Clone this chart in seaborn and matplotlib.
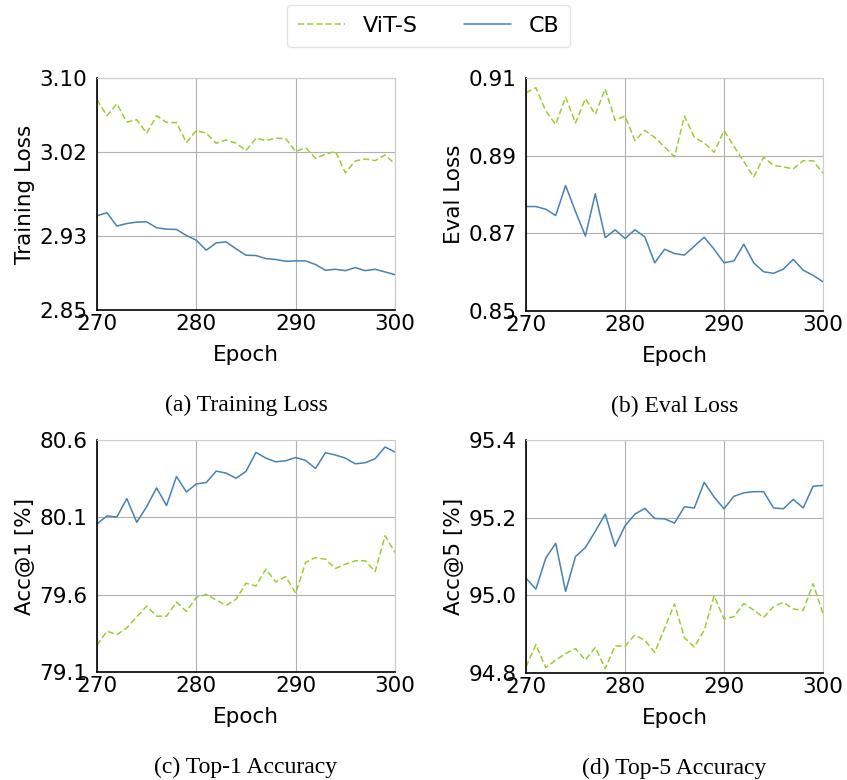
import numpy as np
import pandas as pd
import matplotlib
matplotlib.use("Agg")
import matplotlib.pyplot as plt
import seaborn as sns

epochs = list(range(270, 301))

# training loss
train_vit = [3.0766, 3.0593, 3.0723, 3.0524, 3.0550, 3.0405, 3.0593, 3.0521, 3.0520, 3.0305,
             3.0434, 3.0405, 3.0297, 3.0333, 3.0297, 3.0218, 3.0351, 3.0326, 3.0351, 3.0348,
             3.0207, 3.0250, 3.0135, 3.0178, 3.0210, 2.9980, 3.0106, 3.0128, 3.0110, 3.0171, 3.0074]
train_cb = [2.9515, 2.9548, 2.9404, 2.9432, 2.9447, 2.9450, 2.9386, 2.9371, 2.9368, 2.9303,
            2.9252, 2.9144, 2.9223, 2.9234, 2.9159, 2.9090, 2.9087, 2.9054, 2.9044, 2.9025,
            2.9029, 2.9029, 2.8990, 2.8928, 2.8939, 2.8924, 2.8957, 2.8924, 2.8939, 2.8910, 2.8881]

# eval loss
eval_vit = [0.9062, 0.9075, 0.9015, 0.8980, 0.9051, 0.8984, 0.9047, 0.9006, 0.9072, 0.8991,
            0.9002, 0.8939, 0.8965, 0.8947, 0.8922, 0.8897, 0.9002, 0.8947, 0.8933, 0.8909,
            0.8965, 0.8924, 0.8885, 0.8845, 0.8896, 0.8875, 0.8871, 0.8866, 0.8887, 0.8887, 0.8855]
eval_cb = [0.8769, 0.8769, 0.8762, 0.8746, 0.8823, 0.8756, 0.8693, 0.8802, 0.8689, 0.8709,
           0.8687, 0.8709, 0.8691, 0.8624, 0.8659, 0.8648, 0.8644, 0.8667, 0.8690, 0.8659,
           0.8624, 0.8629, 0.8672, 0.8624, 0.8601, 0.8597, 0.8608, 0.8633, 0.8605, 0.8592, 0.8575]

# top-1
acc1_vit = [79.273, 79.364, 79.342, 79.385, 79.457, 79.526, 79.461, 79.461, 79.552, 79.492,
            79.581, 79.602, 79.565, 79.531, 79.570, 79.674, 79.656, 79.765, 79.682, 79.717,
            79.609, 79.808, 79.840, 79.829, 79.769, 79.797, 79.819, 79.819, 79.749, 79.981, 79.873]
acc1_cb = [80.057, 80.109, 80.102, 80.221, 80.068, 80.169, 80.290, 80.176, 80.364, 80.264,
           80.316, 80.325, 80.399, 80.386, 80.353, 80.397, 80.520, 80.483, 80.459, 80.466,
           80.487, 80.468, 80.416, 80.518, 80.503, 80.483, 80.446, 80.453, 80.479, 80.555, 80.522]

# top-5
acc5_vit = [94.816, 94.873, 94.814, 94.833, 94.850, 94.863, 94.833, 94.866, 94.811, 94.870,
            94.869, 94.898, 94.884, 94.853, 94.915, 94.978, 94.891, 94.867, 94.910, 94.999,
            94.939, 94.945, 94.979, 94.962, 94.943, 94.971, 94.982, 94.965, 94.961, 95.030, 94.953]
acc5_cb = [95.044, 95.016, 95.096, 95.134, 95.010, 95.100, 95.123, 95.165, 95.209, 95.126,
           95.179, 95.209, 95.224, 95.198, 95.197, 95.186, 95.228, 95.225, 95.291, 95.253,
           95.223, 95.255, 95.264, 95.267, 95.267, 95.225, 95.223, 95.247, 95.225, 95.281, 95.283]

ylabels = ["Training Loss", "Eval Loss", "Acc@1 [%]", "Acc@5 [%]"]
captions = ["(a) Training Loss", "(b) Eval Loss", "(c) Top-1 Accuracy", "(d) Top-5 Accuracy"]
yticks = [[2.85, 2.93, 3.02, 3.10], [0.85, 0.87, 0.89, 0.91],
          [79.1, 79.6, 80.1, 80.6], [94.8, 95.0, 95.2, 95.4]]
yfmt = ["{:.2f}", "{:.2f}", "{:.1f}", "{:.1f}"]
series = [(train_vit, train_cb), (eval_vit, eval_cb), (acc1_vit, acc1_cb), (acc5_vit, acc5_cb)]

sns.set_style("whitegrid")
plt.rcParams['font.family'] = ['DejaVu Sans']
plt.rcParams['text.color'] = 'black'
plt.rcParams['axes.labelcolor'] = 'black'
plt.rcParams['xtick.color'] = 'black'
plt.rcParams['ytick.color'] = 'black'

green = "#9acd32"
blue = "#4682b4"

fig = plt.figure(figsize=(8.47, 7.8), dpi=100)
W, H = 847, 780
boxes = [(97, 78, 395, 310), (526, 78, 823, 311), (97, 440, 395, 672), (526, 440, 823, 673)]

for i, (l, t, r, b) in enumerate(boxes):
    ax = fig.add_axes([l / W, 1 - b / H, (r - l) / W, (b - t) / H])
    vit, cb = series[i]
    df = pd.DataFrame({"epoch": epochs, "ViT-S": vit, "CB": cb})
    sns.lineplot(data=df, x="epoch", y="ViT-S", ax=ax, color=green, lw=1.1,
                 linestyle=(0, (4, 2)), label="ViT-S", legend=False)
    sns.lineplot(data=df, x="epoch", y="CB", ax=ax, color=blue, lw=1.1,
                 label="CB", legend=False)
    ax.set_xlim(270, 300)
    ax.set_xticks([270, 280, 290, 300])
    ax.set_ylim(yticks[i][0], yticks[i][-1])
    ax.set_yticks(yticks[i])
    ax.set_yticklabels([yfmt[i].format(v) for v in yticks[i]])
    ax.set_xlabel("Epoch", fontsize=15.5, labelpad=8)
    ax.set_ylabel(ylabels[i], fontsize=15.5, labelpad=3)
    ax.tick_params(direction="in", labelsize=15.5, length=4, width=1, color="black")
    ax.tick_params(axis="y", pad=7)
    ax.tick_params(axis="x", pad=3)
    ax.grid(True, color="#b0b0b0", lw=0.8)
    for s in ["left", "bottom"]:
        ax.spines[s].set_color("black")
        ax.spines[s].set_linewidth(1.2)
    for s in ["top", "right"]:
        ax.spines[s].set_color("#cccccc")
        ax.spines[s].set_linewidth(0.8)
    cx = (l + r) / 2 / W
    cy = 1 - (b + 95) / H
    fig.text(cx, cy, captions[i], ha="center", va="center", fontsize=17,
             family="Liberation Serif")
    if i == 0:
        handles, labels = ax.get_legend_handles_labels()

fig.legend(handles, labels, loc="upper center", bbox_to_anchor=(0.506, 1 - 5 / H), ncol=2,
           fontsize=16, handlelength=2.1, handletextpad=0.8, columnspacing=2.1,
           borderpad=0.5, borderaxespad=0, frameon=True, edgecolor="#dddddd", fancybox=True)

fig.savefig("out.png", dpi=100)
